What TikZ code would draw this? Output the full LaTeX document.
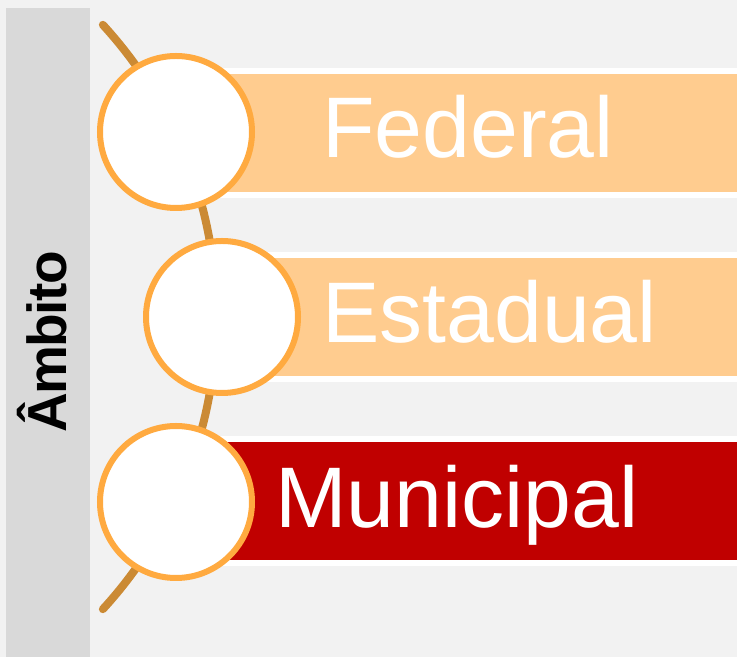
\documentclass[tikz,border=0pt]{standalone}
\usepackage{fontspec}
\setmainfont{Liberation Sans}
\definecolor{bgc}{HTML}{F2F2F2}
\definecolor{sidec}{HTML}{D9D9D9}
\definecolor{arcc}{HTML}{CB8A34}
\definecolor{ringc}{HTML}{FFAA40}
\definecolor{lightbar}{HTML}{FFCC8F}
\definecolor{redbar}{HTML}{C00000}
\begin{document}
\begin{tikzpicture}[x=1bp,y=1bp,
  barbox/.style={draw=white,line width=6bp,minimum width=600bp,minimum height=124bp,anchor=west,inner sep=0pt},
  ring/.style={circle,draw=ringc,fill=white,line width=6bp,minimum size=152bp,inner sep=0pt},
  label/.style={anchor=base west,inner sep=0pt,text=white,font=\fontsize{86bp}{90bp}\selectfont}]
\useasboundingbox (0,0) rectangle (737,657);
\fill[bgc] (0,0) rectangle (737,657);
\fill[sidec] (6,0) rectangle (90,649);
\node[rotate=90,anchor=base,inner sep=0pt,font=\fontsize{55bp}{60bp}\selectfont\bfseries\addfontfeatures{LetterSpace=-3}] (amb) at (66,315) {Âmbito};
\draw[arcc,line width=8bp,line cap=round] (-216,340) ++(42.5:432.5) arc[start angle=42.5,end angle=-42.5,radius=432.5];
\node[barbox,fill=lightbar] (b1) at (176,524) {};
\node[barbox,fill=lightbar] (b2) at (176,340) {};
\node[barbox,fill=redbar] (b3) at (176,155.5) {};
\node[ring] (c1) at (176,525) {};
\node[ring] (c2) at (222,340) {};
\node[ring] (c3) at (176,155) {};
\node[label] (t1) at (322,499) {Federal};
\node[label] (t2) at (322,314) {Estadual};
\node[label] (t3) at (275,129) {Municipal};
\end{tikzpicture}
\end{document}
